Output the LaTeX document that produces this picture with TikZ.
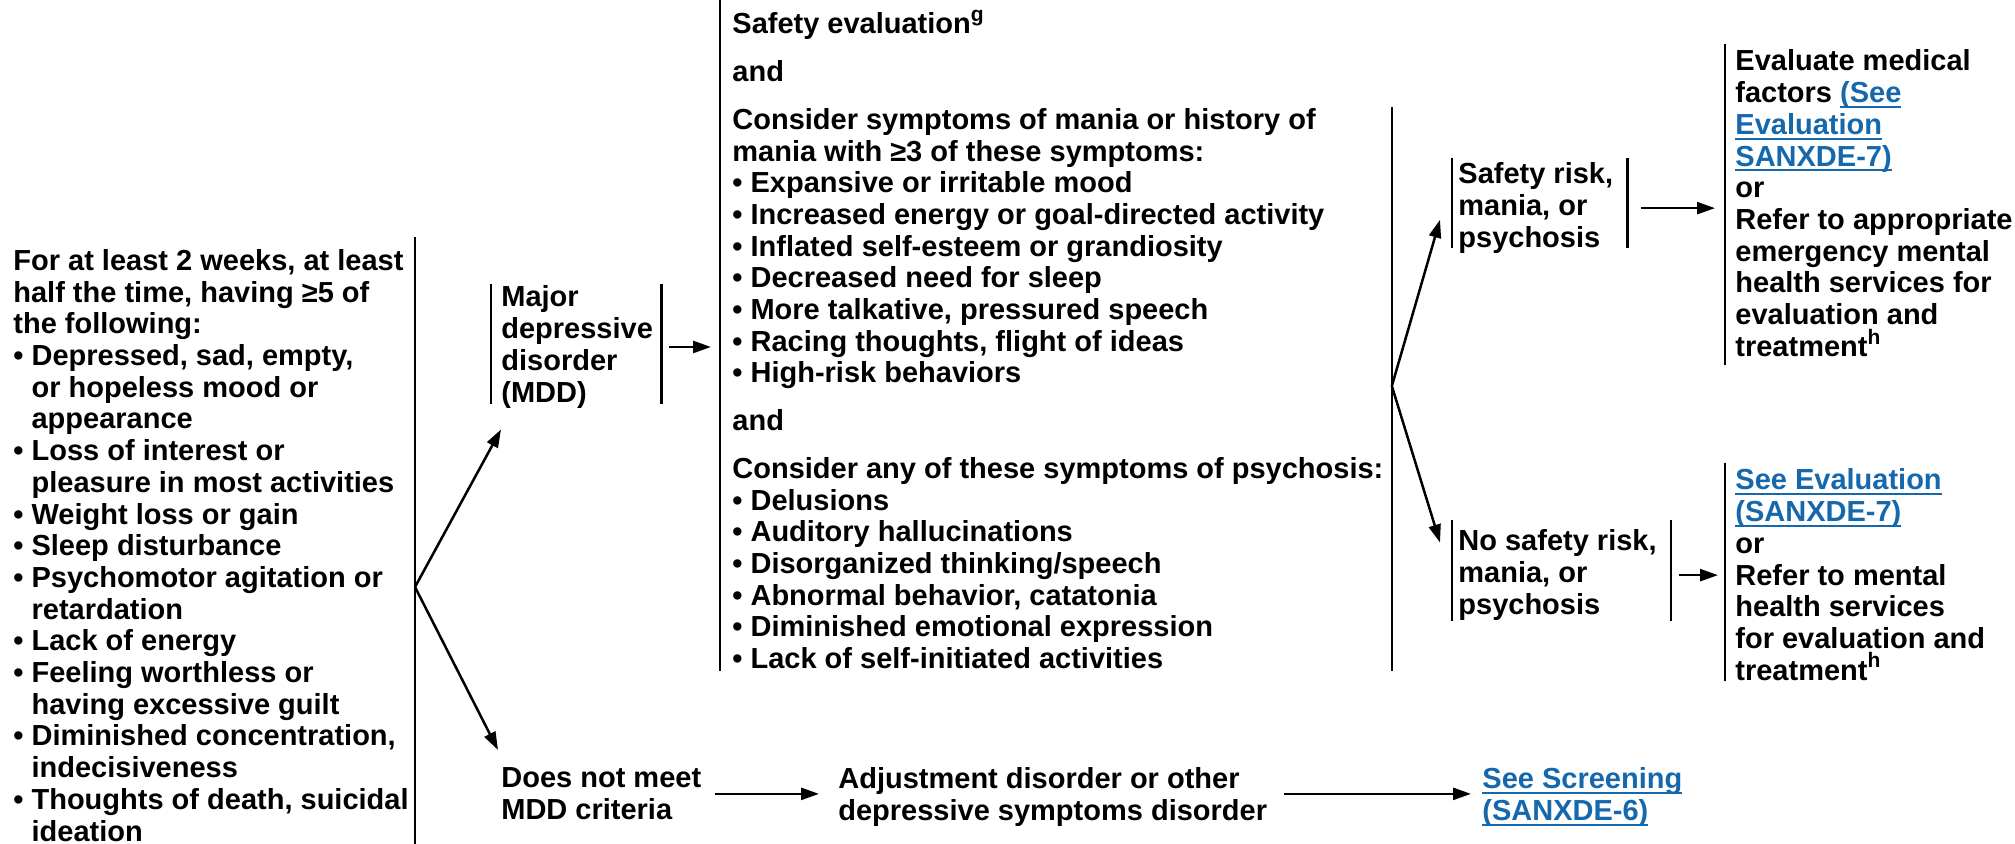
\documentclass[tikz,border=0pt]{standalone}
\usepackage{fontspec}
\setmainfont{Liberation Sans}
\usetikzlibrary{arrows.meta}
\definecolor{linkblue}{RGB}{22,104,172}
\newcommand\lnk[1]{\textcolor{linkblue}{\setbox0=\hbox{#1}\rlap{\rule[-2.6pt]{\wd0}{0.9pt}}\box0}}
\newcommand\mybul{\makebox[0.628em][l]{•}}
\newcommand\myind{\hspace*{0.628em}}
\newcommand\mysup[1]{\raisebox{0.42em}[0pt][0pt]{\fontsize{10.5}{10.5}\selectfont #1}}
\begin{document}
\begin{tikzpicture}[x=0.5pt,y=-0.5pt,
  txt/.style={font=\fontsize{14.5}{#1}\selectfont\bfseries, align=left, inner sep=0pt, anchor=north west},
  txt/.default=15.85,
  bar/.style={line width=1.3pt},
  arr/.style={line width=1.25pt, -{Triangle[length=9pt,width=6pt]}}]
\useasboundingbox (0,0) rectangle (2015,843);

% left criteria block
\node[txt] (L) at (13,249) {For at least 2 weeks, at least\\ half the time, having ≥5 of\\ the following:\\
\mybul Depressed, sad, empty,\\ \myind or hopeless mood or\\ \myind appearance\\
\mybul Loss of interest or\\ \myind pleasure in most activities\\
\mybul Weight loss or gain\\ \mybul Sleep disturbance\\
\mybul Psychomotor agitation or\\ \myind retardation\\
\mybul Lack of energy\\
\mybul Feeling worthless or\\ \myind having excessive guilt\\
\mybul Diminished concentration,\\ \myind indecisiveness\\
\mybul Thoughts of death, suicidal\\ \myind ideation};
\draw[bar] ([shift={(3pt,6pt)}]L.north east) coordinate (Ltop) -- ([shift={(3pt,-12pt)}]L.south east);
\coordinate (LB) at (Ltop |- 0,587);

% MDD
\node[txt] (M) at (501,285.5) {Major\\ depressive\\ disorder\\ (MDD)};
\draw[bar] ([shift={(-5pt,1pt)}]M.north west) -- ([shift={(-5pt,2pt)}]M.south west);
\draw[bar] ([shift={(4pt,1pt)}]M.north east) -- ([shift={(4pt,2pt)}]M.south east);

% middle block
\node[txt] (Mid) at (732,12.5) {Safety evaluation\mysup{g}\\[8pt]
and\\[8pt]
Consider symptoms of mania or history of\\ mania with ≥3 of these symptoms:\\
\mybul Expansive or irritable mood\\
\mybul Increased energy or goal-directed activity\\
\mybul Inflated self-esteem or grandiosity\\
\mybul Decreased need for sleep\\
\mybul More talkative, pressured speech\\
\mybul Racing thoughts, flight of ideas\\
\mybul High-risk behaviors\\[8pt]
and\\[8pt]
Consider any of these symptoms of psychosis:\\
\mybul Delusions\\
\mybul Auditory hallucinations\\
\mybul Disorganized thinking/speech\\
\mybul Abnormal behavior, catatonia\\
\mybul Diminished emotional expression\\
\mybul Lack of self-initiated activities};
\draw[bar] ([shift={(-6pt,6.5pt)}]Mid.north west) -- ([shift={(-6pt,-1pt)}]Mid.south west);
\coordinate (MRtop) at ([xshift=4pt]Mid.east |- 0,107);
\coordinate (MRbot) at ([shift={(4pt,-1pt)}]Mid.south east);
\draw[bar] (MRtop) -- (MRbot);
\coordinate (MB) at (MRtop |- 0,386);

% safety risk
\node[txt] (S) at (1458,162.5) {Safety risk,\\ mania, or\\ psychosis};
\draw[bar] ([shift={(-3pt,2.5pt)}]S.north west) -- ([shift={(-3pt,3pt)}]S.south west);
\draw[bar] ([shift={(7pt,2.5pt)}]S.north east) -- ([shift={(7pt,3pt)}]S.south east);

\node[txt] (N) at (1458,529.5) {No safety risk,\\ mania, or\\ psychosis};
\draw[bar] ([shift={(-3pt,5pt)}]N.north west) -- ([shift={(-3pt,0pt)}]N.south west);
\draw[bar] ([shift={(7pt,5pt)}]N.north east) -- ([shift={(7pt,0pt)}]N.south east);

% right blocks
\node[txt] (E) at (1735,49.5) {Evaluate medical\\ factors \lnk{(See}\\ \lnk{Evaluation}\\ \lnk{SANXDE-7)}\\ or\\
Refer to appropriate\\ emergency mental\\ health services for\\ evaluation and\\ treatment\mysup{h}};
\draw[bar] ([shift={(-5pt,3pt)}]E.north west) -- ([shift={(-5pt,-4pt)}]E.south west);

\node[txt] (V) at (1735,468.5) {\lnk{See Evaluation}\\ \lnk{(SANXDE-7)}\\ or\\ Refer to mental\\ health services\\ for evaluation and\\ treatment\mysup{h}};
\draw[bar] ([shift={(-5pt,3pt)}]V.north west) -- ([shift={(-5pt,0pt)}]V.south west);

% bottom row
\node[txt] (D) at (501,767.5) {Does not meet\\ MDD criteria};
\node[txt] (A) at (838,767.5) {Adjustment disorder or other\\ depressive symptoms disorder};
\node[txt] (Sc) at (1482,767.5) {\lnk{See Screening}\\ \lnk{(SANXDE-6)}};

% connectors
\draw[arr] (LB) -- ([shift={(0pt,-10.5pt)}]M.south west);
\draw[arr] (LB) -- ([shift={(-1.5pt,8.75pt)}]D.north west);
\draw[arr] ([xshift=8pt]M.east) -- ([xshift=-10.5pt]Mid.west |- M.east);
\draw[arr] (MB) -- ([shift={(-9pt,17pt)}]S.south west);
\draw[arr] (MB) -- ([shift={(-9pt,-6.5pt)}]N.north west);
\draw[arr] ([xshift=13.5pt]S.east) -- ([xshift=-10pt]E.west |- S.east);
\draw[arr] ([xshift=11pt]N.east) -- ([xshift=-8.5pt]V.west |- N.east);
\draw[arr] ([xshift=6.5pt]D.east) -- ([xshift=-9.5pt]A.west |- D.east);
\draw[arr] ([xshift=8pt]A.east |- D.east) -- ([xshift=-5.5pt]Sc.west |- D.east);
\end{tikzpicture}
\end{document}
